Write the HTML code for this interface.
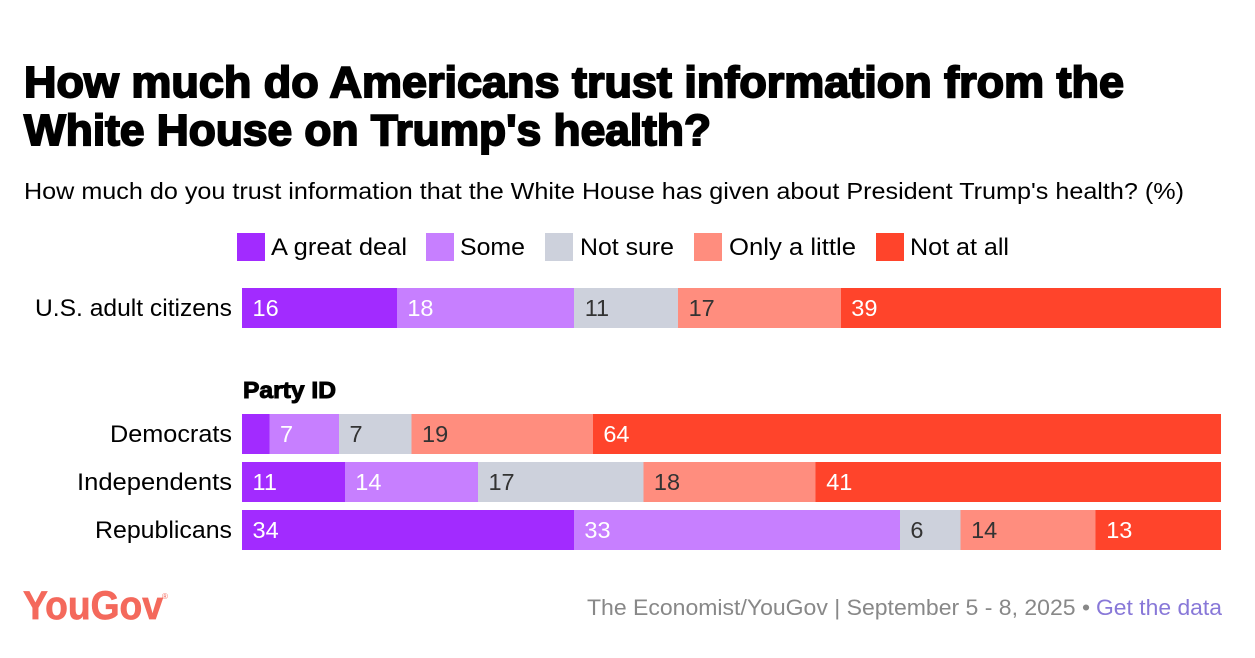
<!DOCTYPE html>
<html lang="en">
<head>
<meta charset="utf-8">
<title>How much do Americans trust information from the White House on Trump's health?</title>
<style>
  html, body { margin: 0; padding: 0; background: #fff; }
  svg { display: block; font-family: "Liberation Sans", sans-serif; }
  .title { font-size: 44px; font-weight: 700; fill: #000; stroke: #000; stroke-width: 1.9px; }
</style>
</head>
<body>
<svg id="chart" width="1255" height="658" viewBox="0 0 1255 658" xmlns="http://www.w3.org/2000/svg">
  <rect width="1255" height="658" fill="#ffffff"/>
  <text class="title" x="24" y="97" textLength="1100" lengthAdjust="spacingAndGlyphs">How much do Americans trust information from the</text>
  <text class="title" x="24" y="145" textLength="687" lengthAdjust="spacingAndGlyphs">White House on Trump's health?</text>
  <text x="24" y="199" font-size="23" fill="#000" textLength="1160" lengthAdjust="spacingAndGlyphs">How much do you trust information that the White House has given about President Trump's health? (%)</text>

  <g>
    <rect x="237" y="233" width="28" height="28" fill="#a22bff"/>
    <text x="271" y="255" font-size="24" textLength="136" lengthAdjust="spacingAndGlyphs">A great deal</text>
    <rect x="426" y="233" width="28" height="28" fill="#c77fff"/>
    <text x="460" y="255" font-size="24" textLength="65" lengthAdjust="spacingAndGlyphs">Some</text>
    <rect x="545" y="233" width="28" height="28" fill="#cdd1dc"/>
    <text x="580" y="255" font-size="24" textLength="94" lengthAdjust="spacingAndGlyphs">Not sure</text>
    <rect x="694" y="233" width="28" height="28" fill="#ff8d7e"/>
    <text x="729" y="255" font-size="24" textLength="127" lengthAdjust="spacingAndGlyphs">Only a little</text>
    <rect x="876" y="233" width="28" height="28" fill="#ff442b"/>
    <text x="910" y="255" font-size="24" textLength="99" lengthAdjust="spacingAndGlyphs">Not at all</text>
  </g>

  <text x="232" y="316" font-size="24" text-anchor="end" textLength="197" lengthAdjust="spacingAndGlyphs">U.S. adult citizens</text>
  <text x="243" y="398" font-size="23" font-weight="700" stroke="#000" stroke-width="1" textLength="93" lengthAdjust="spacingAndGlyphs">Party ID</text>
  <text x="232" y="442" font-size="24" text-anchor="end" textLength="122" lengthAdjust="spacingAndGlyphs">Democrats</text>
  <text x="232" y="490" font-size="24" text-anchor="end" textLength="155" lengthAdjust="spacingAndGlyphs">Independents</text>
  <text x="232" y="538" font-size="24" text-anchor="end" textLength="137" lengthAdjust="spacingAndGlyphs">Republicans</text>

  <g id="bars"></g>

  <text x="23" y="619" font-size="40" font-weight="700" fill="#f4695c" stroke="#f4695c" stroke-width="0.7" textLength="140" lengthAdjust="spacingAndGlyphs">YouGov</text>
  <text x="162" y="599" font-size="8" fill="#f4695c">®</text>
  <text x="587" y="615" font-size="22" fill="#888888" textLength="503" lengthAdjust="spacingAndGlyphs">The Economist/YouGov | September 5 - 8, 2025 •</text>
  <text x="1096" y="615" font-size="22" fill="#8878d8" textLength="126" lengthAdjust="spacingAndGlyphs">Get the data</text>
</svg>
<script>
const categories = ["U.S. adult citizens", "Democrats", "Independents", "Republicans"];
const seriesNames = ["A great deal", "Some", "Not sure", "Only a little", "Not at all"];
const greatDeal = [15.8, 2.8, 10.5, 33.9];
const some = [18.1, 7.1, 13.6, 33.3];
const notSure = [10.6, 7.4, 16.9, 6.2];
const onlyALittle = [16.6, 18.5, 17.6, 13.8];
const notAtAll = [38.8, 64.1, 41.4, 12.8];

const allSeries = [greatDeal, some, notSure, onlyALittle, notAtAll];
const seriesColors = ["#a22bff", "#c77fff", "#cdd1dc", "#ff8d7e", "#ff442b"];
const labelColors = ["#ffffff", "#ffffff", "#333333", "#333333", "#ffffff"];
const rowTops = [288, 414, 462, 510];
const plotLeft = 242;
const plotWidth = 979;
const barHeight = 40;
const minLabelValue = 5;
const svgNS = "http://www.w3.org/2000/svg";
const barsGroup = document.getElementById("bars");

function slug(s) {
  return s.toLowerCase().replace(/[^a-z0-9]+/g, "-");
}
function xScale(cumulative, total) {
  return plotLeft + (cumulative / total) * plotWidth;
}

categories.forEach(function (category, row) {
  const total = allSeries.reduce(function (sum, s) { return sum + s[row]; }, 0);
  let cumulative = 0;
  allSeries.forEach(function (values, si) {
    const value = values[row];
    const x0 = xScale(cumulative, total);
    const x1 = xScale(cumulative + value, total);
    cumulative += value;

    const rect = document.createElementNS(svgNS, "rect");
    rect.setAttribute("x", x0);
    rect.setAttribute("y", rowTops[row]);
    rect.setAttribute("width", x1 - x0);
    rect.setAttribute("height", barHeight);
    rect.setAttribute("fill", seriesColors[si]);
    rect.setAttribute("shape-rendering", "crispEdges");
    
    
    barsGroup.appendChild(rect);

    if (value >= minLabelValue) {
      const label = document.createElementNS(svgNS, "text");
      label.setAttribute("x", x0 + 10.5);
      label.setAttribute("y", rowTops[row] + 28);
      label.setAttribute("font-size", "23.5");
      label.setAttribute("fill", labelColors[si]);
      
      
      label.textContent = String(Math.round(value));
      barsGroup.appendChild(label);
    }
  });
});
</script>
</body>
</html>
